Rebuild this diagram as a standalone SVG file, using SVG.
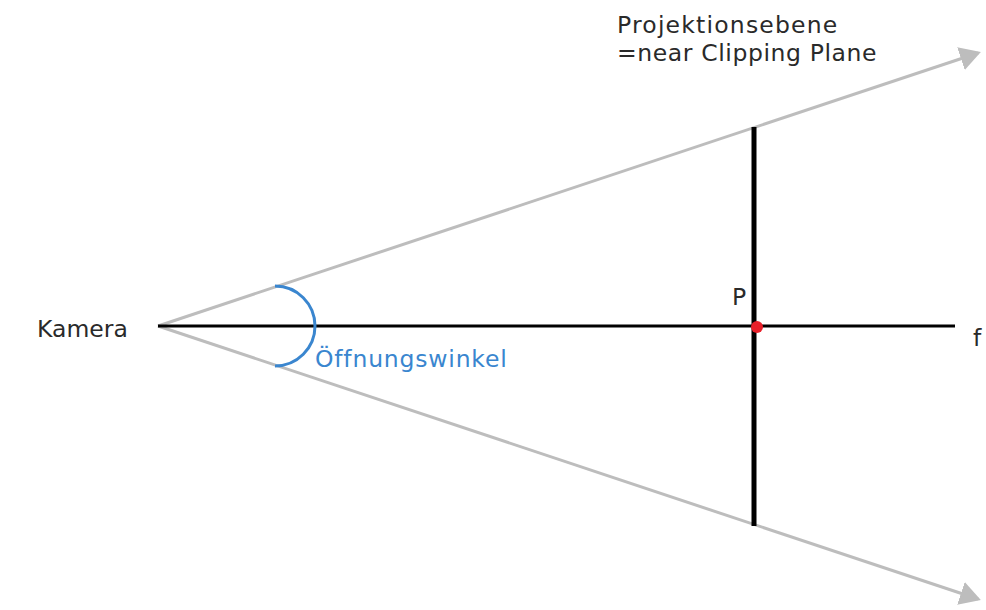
<svg xmlns="http://www.w3.org/2000/svg" width="986" height="610" viewBox="0 0 986 610">
<style>
.t{font-family:"DejaVu Sans",Verdana,sans-serif;font-size:23.5px;fill:#2a2a2a}
.ray{stroke:#bdbdbd;stroke-width:3;fill:none}
</style>
<defs>
<marker id="ah" markerWidth="8" markerHeight="8" refX="6" refY="4" orient="auto" markerUnits="strokeWidth">
<path d="M0,0 L7,4 L0,8 Z" fill="#bdbdbd"/>
</marker>
</defs>
<rect width="986" height="610" fill="#fff"/>
<g id="connectors">
<line class="ray" x1="158" y1="326" x2="978" y2="53" marker-end="url(#ah)"/>
<line class="ray" x1="158" y1="326" x2="978" y2="599" marker-end="url(#ah)"/>
<line x1="158" y1="326" x2="955" y2="326" stroke="#000" stroke-width="3"/>
</g>
<g id="plane">
<line x1="754" y1="127" x2="754" y2="526" stroke="#000" stroke-width="5"/>
</g>
<g id="angle">
<path d="M275,286 A40,40 0 0 1 275,366" fill="none" stroke="#3a86cf" stroke-width="3"/>
<text x="315" y="367" font-family="DejaVu Sans,Verdana,sans-serif" font-size="23.5" letter-spacing="0.8" fill="#3a86cf">Öffnungswinkel</text>
</g>
<g id="point">
<circle cx="757" cy="327" r="6" fill="#e8202a"/>
<text class="t" x="732" y="305">P</text>
</g>
<g id="camera"><text class="t" x="37" y="337">Kamera</text></g>
<g id="f"><text class="t" x="973" y="346">f</text></g>
<g id="label"><text class="t" x="617" y="33" letter-spacing="1.2">Projektionsebene</text><text class="t" x="617" y="61" letter-spacing="0.6">=near Clipping Plane</text></g>
</svg>
